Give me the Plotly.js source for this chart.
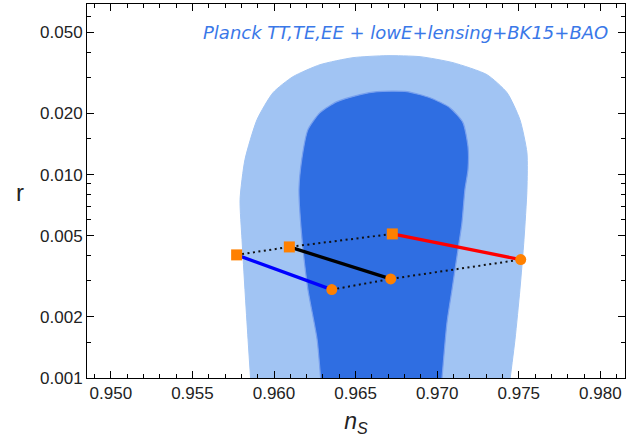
<!DOCTYPE html>
<html>
<head>
<meta charset="utf-8">
<script src="https://cdn.plot.ly/plotly-3.0.1.min.js"></script>
<style>html,body{margin:0;padding:0;background:#fff;}#chart{width:644px;height:445px;}</style>
</head>
<body>
<div id="chart"></div>
<script>
// 95% CL region (light)
const outerNs = [0.9586, 0.95841, 0.95822, 0.95804, 0.95792, 0.95822, 0.95896, 0.95994, 0.96116, 0.96282, 0.96484, 0.96692, 0.96895, 0.97097, 0.97305, 0.97428, 0.97507, 0.97550, 0.97550, 0.97532, 0.97507, 0.97477, 0.97440];
const outerR  = [0.0009, 0.00155, 0.00272, 0.00479, 0.00754, 0.01185, 0.01863, 0.02529, 0.0303, 0.03471, 0.03758, 0.03844, 0.03801, 0.03551, 0.0310, 0.02529, 0.01863, 0.01283, 0.00844, 0.00479, 0.00272, 0.00155, 0.0009];
// 68% CL region (dark)
const innerNs = [0.96290, 0.96264, 0.96208, 0.96172, 0.96153, 0.96170, 0.96208, 0.96282, 0.96386, 0.96527, 0.96631, 0.96815, 0.96956, 0.97078, 0.97158, 0.97189, 0.97189, 0.97170, 0.97152, 0.97121, 0.97091, 0.97060, 0.97025];
const innerR  = [0.0009, 0.00155, 0.00272, 0.00479, 0.00844, 0.01185, 0.01664, 0.02017, 0.02284, 0.02473, 0.02558, 0.02558, 0.02389, 0.02134, 0.01801, 0.01373, 0.01058, 0.00844, 0.00581, 0.00395, 0.00272, 0.00187, 0.0009];
// model end points
const squareNs = [0.95771, 0.96094, 0.96725];
const squareR  = [0.00403, 0.00441, 0.00511];
const circleNs = [0.96354, 0.96715, 0.97512];
const circleR  = [0.00272, 0.00307, 0.00382];
const lineColors = ['#0000ff', '#000000', '#ff0000'];

const xTicks = [0.950, 0.955, 0.960, 0.965, 0.970, 0.975, 0.980];
const xTickText = ['0.950', '0.955', '0.960', '0.965', '0.970', '0.975', '0.980'];
const yTicks = [0.001, 0.002, 0.005, 0.010, 0.020, 0.050];
const yTickText = ['0.001', '0.002', '0.005', '0.010', '0.020', '0.050'];
const yMinor = [0.0015, 0.003, 0.004, 0.006, 0.007, 0.008, 0.009, 0.015, 0.03, 0.04, 0.06];
const xMinor = [];
for (let i = 949; i <= 981; i++) xMinor.push(i / 1000);

const legendText = 'Planck TT,TE,EE + lowE+lensing+BK15+BAO';
const xTitle = '<i>n</i><sub><i>S</i></sub>';
const yTitle = 'r';

const traces = [];
traces.push({x: outerNs, y: outerR, type: 'scatter', mode: 'lines', fill: 'toself',
  fillcolor: 'rgb(161,196,243)', line: {color: 'rgb(161,196,243)', width: 1, shape: 'spline', smoothing: 0.6}, hoverinfo: 'skip', showlegend: false});
traces.push({x: innerNs, y: innerR, type: 'scatter', mode: 'lines', fill: 'toself',
  fillcolor: 'rgb(47,110,226)', line: {color: 'rgb(120,160,238)', width: 1.2, shape: 'spline', smoothing: 0.6}, hoverinfo: 'skip', showlegend: false});
// dotted connectors
traces.push({x: squareNs, y: squareR, type: 'scatter', mode: 'lines', line: {color: '#111', width: 2, dash: '2px,3.5px'}, showlegend: false});
traces.push({x: circleNs, y: circleR, type: 'scatter', mode: 'lines', line: {color: '#111', width: 2, dash: '2px,3.5px'}, showlegend: false});
// solid lines
for (let i = 0; i < 3; i++) {
  traces.push({x: [squareNs[i], circleNs[i]], y: [squareR[i], circleR[i]], type: 'scatter', mode: 'lines',
    line: {color: lineColors[i], width: 3.3}, showlegend: false});
}
traces.push({x: squareNs, y: squareR, type: 'scatter', mode: 'markers', marker: {symbol: 'square', size: 11, color: '#ff8000'}, showlegend: false});
traces.push({x: circleNs, y: circleR, type: 'scatter', mode: 'markers', marker: {symbol: 'circle', size: 11, color: '#ff8000'}, showlegend: false});

const tickFont = {family: 'Liberation Sans, Arial, sans-serif', size: 17, color: '#222'};

const layout = {
  width: 644, height: 445,
  margin: {l: 87, r: 19, t: 4, b: 66.5, pad: 0},
  paper_bgcolor: '#fff', plot_bgcolor: '#fff',
  showlegend: false,
  xaxis: {
    range: [0.94854, 0.98151], showgrid: false, zeroline: false,
    showline: true, linecolor: '#000', linewidth: 1, mirror: 'ticks',
    ticks: 'inside', ticklen: 7, tickwidth: 1, tickcolor: '#000',
    tickmode: 'array', tickvals: xTicks, ticktext: xTickText, tickfont: tickFont,
    minor: {tickmode: 'array', tickvals: xMinor, ticks: 'inside', ticklen: 4, tickwidth: 1, tickcolor: '#000', showgrid: false},
    title: {text: xTitle, font: {family: 'Liberation Sans, Arial, sans-serif', size: 23, color: '#222'}, standoff: 10}
  },
  yaxis: {
    type: 'log', range: [Math.log10(0.001), Math.log10(0.069)], showgrid: false, zeroline: false,
    showline: true, linecolor: '#000', linewidth: 1, mirror: 'ticks',
    ticks: 'inside', ticklen: 7, tickwidth: 1, tickcolor: '#000',
    tickmode: 'array', tickvals: yTicks, ticktext: yTickText, tickfont: tickFont,
    minor: {tickmode: 'array', tickvals: yMinor, ticks: 'inside', ticklen: 4, tickwidth: 1, tickcolor: '#000', showgrid: false}
  },
  annotations: [{
    text: '<i>' + legendText + '</i>', xref: 'paper', yref: 'paper', x: 0.972, y: 0.925,
    xanchor: 'right', yanchor: 'middle', showarrow: false,
    font: {family: 'DejaVu Sans, sans-serif', size: 18, color: 'rgb(58,120,232)'}
  }, {
    text: yTitle, xref: 'paper', yref: 'paper', x: -0.1245, y: 0.497,
    xanchor: 'center', yanchor: 'middle', showarrow: false,
    font: {family: 'Liberation Sans, Arial, sans-serif', size: 24, color: '#222'}
  }]
};

Plotly.newPlot('chart', traces, layout, {staticPlot: true, displayModeBar: false});
</script>
</body>
</html>
